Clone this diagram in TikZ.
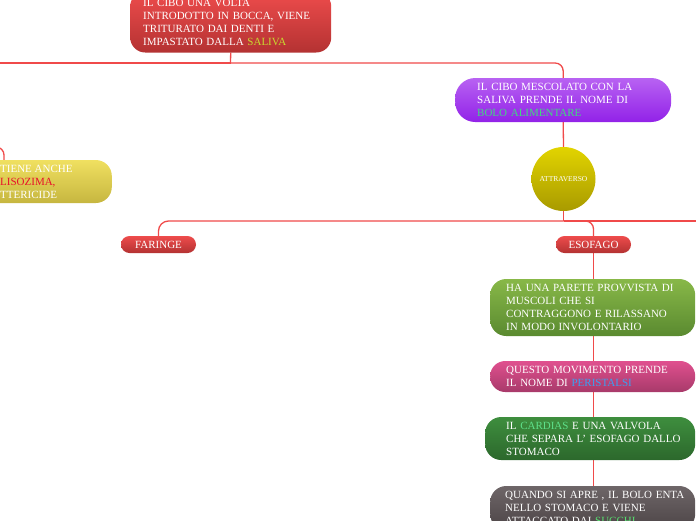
\documentclass[tikz,border=0pt]{standalone}
\usepackage{fontspec}
\setmainfont{Liberation Serif}
\usetikzlibrary{backgrounds}
\definecolor{linered}{HTML}{F04A4A}
\definecolor{redtop}{HTML}{EE4C4C}
\definecolor{redbot}{HTML}{B43232}
\definecolor{purtop}{HTML}{B862F2}
\definecolor{purbot}{HTML}{9222E8}
\definecolor{yeltop}{HTML}{E2D400}
\definecolor{yelbot}{HTML}{A89A00}
\definecolor{gretop}{HTML}{88B848}
\definecolor{grebot}{HTML}{5A8A30}
\definecolor{pintop}{HTML}{E0508F}
\definecolor{pinbot}{HTML}{A83A6A}
\definecolor{dgrtop}{HTML}{3E8E3E}
\definecolor{dgrbot}{HTML}{2C682C}
\definecolor{graytop}{HTML}{6E6668}
\definecolor{graybot}{HTML}{4C4446}
\definecolor{lyeltop}{HTML}{F0E060}
\definecolor{lyelbot}{HTML}{C6B640}
\definecolor{salivacol}{HTML}{C8D830}
\definecolor{bolocol}{HTML}{40D880}
\definecolor{pericol}{HTML}{3AA0F0}
\definecolor{cardcol}{HTML}{5EE08A}
\definecolor{succol}{HTML}{58E070}
\definecolor{lisocol}{HTML}{E8102A}
\begin{document}
\begin{tikzpicture}[x=1pt,y=-1pt,
  txt/.style={text=white, font=\fontsize{11}{13}\selectfont},
  box/.style={txt, rectangle, align=left, inner ysep=0pt, anchor=west},
  pill/.style={txt, rectangle, align=center, inner sep=0pt, minimum width=75pt, minimum height=17pt, rounded corners=8.5pt, top color=redtop, bottom color=redbot},
  conn/.style={draw=linered, line width=1.3pt}]
\useasboundingbox (0,0) rectangle (696,520);

% nodes
\node[box, inner xsep=13pt, text width=175pt, minimum width=201pt, minimum height=61pt, rounded corners=15pt, top color=redtop, bottom color=redbot] (top) at (130,22)
  {IL CIBO UNA VOLTA\\INTRODOTTO IN BOCCA, VIENE\\TRITURATO DAI DENTI E\\IMPASTATO DALLA \textcolor{salivacol}{SALIVA}};

\node[box, inner xsep=22pt, text width=172pt, minimum width=216pt, minimum height=44pt, rounded corners=20pt, top color=purtop, bottom color=purbot] (bolo) at (455,100)
  {IL CIBO MESCOLATO CON LA\\SALIVA PRENDE IL NOME DI\\\textcolor{bolocol}{BOLO ALIMENTARE}};

\node[circle, minimum size=64pt, inner sep=0pt, text=white, font=\fontsize{7.5}{9}\selectfont, top color=yeltop, bottom color=yelbot] (attr) at (563.5,179) {ATTRAVERSO};

\node[pill] (faringe) at (158.5,244.5) {FARINGE};
\node[pill] (esofago) at (593.5,244.5) {ESOFAGO};

\node[box, inner xsep=16pt, text width=173pt, minimum width=205pt, minimum height=57pt, rounded corners=16pt, top color=gretop, bottom color=grebot] (parete) at (490,307.5)
  {HA UNA PARETE PROVVISTA DI\\MUSCOLI CHE SI\\\mbox{CONTRAGGONO E RILASSANO}\\IN MODO INVOLONTARIO};

\node[box, inner xsep=16pt, text width=173pt, minimum width=205pt, minimum height=31pt, rounded corners=15pt, top color=pintop, bottom color=pinbot] (peri) at (490,376.5)
  {\mbox{QUESTO MOVIMENTO PRENDE}\\IL NOME DI \textcolor{pericol}{PERISTALSI}};

\node[box, inner xsep=21pt, text width=168pt, minimum width=210pt, minimum height=43pt, rounded corners=16pt, top color=dgrtop, bottom color=dgrbot] (cardias) at (485,438.5)
  {IL \textcolor{cardcol}{CARDIAS} E UNA VALVOLA\\\mbox{CHE SEPARA L' ESOFAGO DALLO}\\STOMACO};

\node[box, inner xsep=15pt, text width=175pt, minimum width=205pt, minimum height=44pt, rounded corners=16pt, top color=graytop, bottom color=graybot] (stomaco) at (490,508)
  {\mbox{QUANDO SI APRE , IL BOLO ENTA}\\NELLO STOMACO E VIENE\\ATTACCATO DAI \textcolor{succol}{SUCCHI}};

\node[rectangle, anchor=east, minimum width=200pt, minimum height=43pt, rounded corners=16pt, top color=lyeltop, bottom color=lyelbot] (liso) at (112,181.5) {};
\node[txt, anchor=west, align=left, inner sep=0pt] (lisotext) at (0,181.5)
  {TIENE ANCHE\\\textcolor{lisocol}{LISOZIMA,}\\TTERICIDE};

% connector points
\coordinate (j1) at (230.5,63);
\coordinate (leftA) at (-20,63);
\coordinate (j2) at (563.5,221);
\coordinate (rightB) at (720,221);
\coordinate (leftC) at (-20,147);

% connectors
\begin{scope}[on background layer]
\draw[conn] (top.south) -- (j1);
\draw[conn] (j1) -- (leftA);
\draw[conn, rounded corners=8pt] (j1) -| (bolo.north);
\draw[conn] (bolo.south) -- (attr.north);
\draw[conn] (attr.south) -- (j2);
\draw[conn, rounded corners=10pt] (j2) -| (faringe.north);
\draw[conn, rounded corners=8pt] (j2) -| (esofago.north);
\draw[conn] (j2) -- (rightB);
\draw[conn, rounded corners=8pt] (leftC) -| (4,0 |- liso.north);
\draw[conn] (esofago.south) -- (parete.north -| esofago.south);
\draw[conn] (parete.south -| esofago.south) -- (peri.north -| esofago.south);
\draw[conn] (peri.south -| esofago.south) -- (cardias.north -| esofago.south);
\draw[conn] (cardias.south -| esofago.south) -- (stomaco.north -| esofago.south);
\end{scope}
\end{tikzpicture}
\end{document}
